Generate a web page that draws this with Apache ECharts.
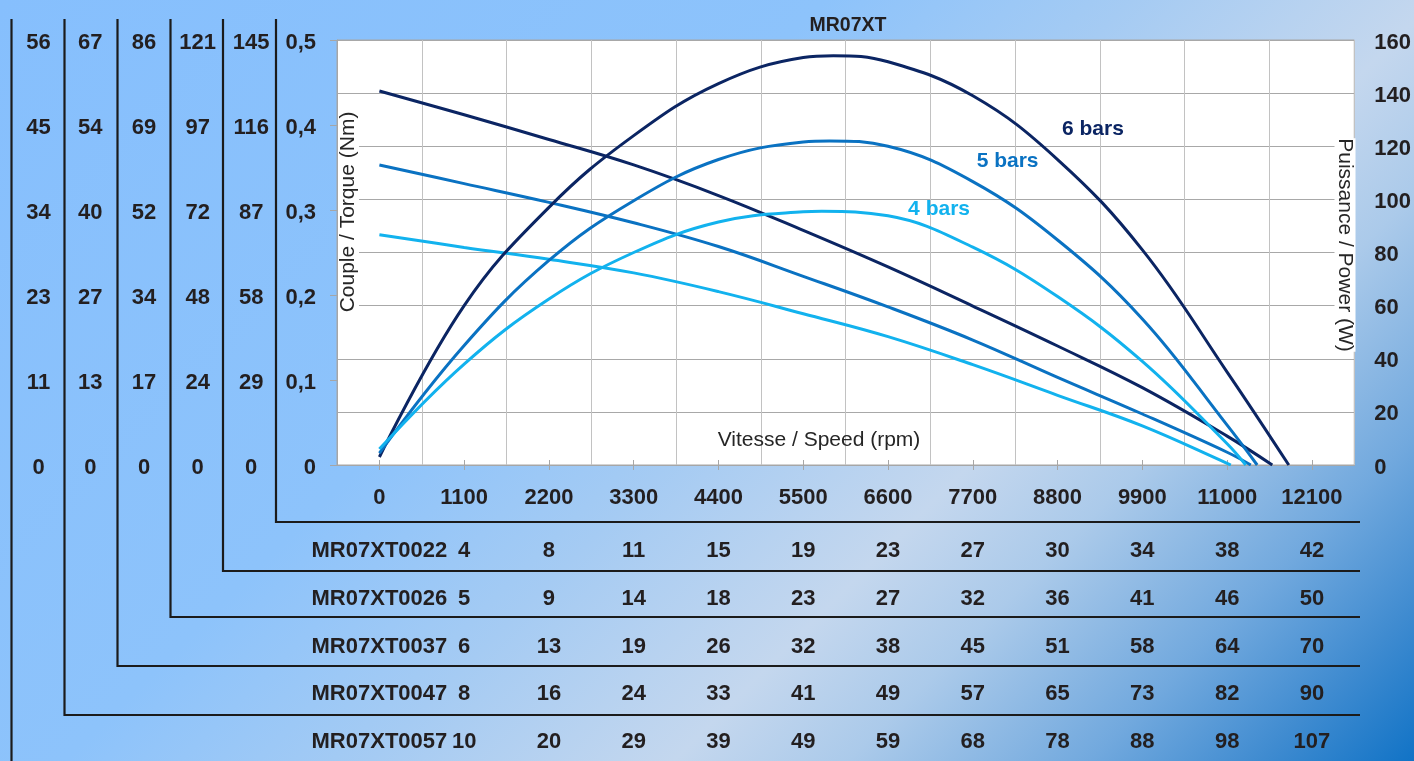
<!DOCTYPE html>
<html>
<head>
<meta charset="utf-8">
<script src="https://cdn.jsdelivr.net/npm/echarts@6/dist/echarts.min.js"></script>
<style>
html,body{margin:0;padding:0;}
#chart{width:1414px;height:761px;}
</style>
</head>
<body>
<div id="chart"></div>
<script>
// ---- data ----
const title = 'MR07XT';
const speedLabels = ['0','1100','2200','3300','4400','5500','6600','7700','8800','9900','11000','12100'];
const pressureLabels = ['6 bars','5 bars','4 bars'];

// torque curves [speed rpm, torque Nm]
const torque6 = [[0,0.44],[1100,0.412],[2200,0.383],[3300,0.353],[4400,0.317],[5500,0.276],[6600,0.233],[7700,0.187],[8800,0.140],[9900,0.091],[11000,0.034],[11586,0]];
const torque5 = [[0,0.353],[1100,0.331],[2200,0.309],[3300,0.285],[4400,0.257],[5500,0.222],[6600,0.186],[7700,0.147],[8800,0.103],[9900,0.060],[11000,0.015],[11307,0]];
const torque4 = [[0,0.271],[1100,0.256],[2200,0.242],[3300,0.226],[4400,0.204],[5500,0.178],[6600,0.151],[7700,0.118],[8800,0.082],[9900,0.046],[11000,0.002],[11048,0]];
// power curves [speed rpm, power W]
const power6 = [[0,3],[1100,60],[2200,97],[3300,124],[4400,143.6],[5500,153.4],[5890,154.1],[6600,151.8],[7700,139],[8800,115],[9900,81],[11000,35],[11800,0]];
const power5 = [[0,4.5],[1100,45],[2200,77],[3300,99.5],[4400,115],[5500,121.6],[5840,122],[6600,120],[7700,106.7],[8800,84.7],[9900,55],[11000,15],[11390,0]];
const power4 = [[0,6],[1100,38],[2200,62.5],[3300,80],[4400,91.5],[5500,95.3],[5740,95.5],[6600,93.8],[7700,82],[8800,63.4],[9900,39],[11000,8],[11242,0]];

// left-hand scale columns (bottom to top)
const colA = ['0','11','23','34','45','56'];
const colB = ['0','13','27','40','54','67'];
const colC = ['0','17','34','52','69','86'];
const colD = ['0','24','48','72','97','121'];
const colE = ['0','29','58','87','116','145'];

// table rows
const models = ['MR07XT0022','MR07XT0026','MR07XT0037','MR07XT0047','MR07XT0057'];
const row0022 = ['4','8','11','15','19','23','27','30','34','38','42'];
const row0026 = ['5','9','14','18','23','27','32','36','41','46','50'];
const row0037 = ['6','13','19','26','32','38','45','51','58','64','70'];
const row0047 = ['8','16','24','33','41','49','57','65','73','82','90'];
const row0057 = ['10','20','29','39','49','59','68','78','88','98','107'];

// ---- style ----
const FONT = "'Liberation Sans', Arial, Helvetica, sans-serif";
const TXT = '#231f20';
const C6 = '#0b2563', C5 = '#0a72c2', C4 = '#12b2ee';
const boldLabel = {fontFamily: FONT, fontSize: 22, fontWeight: 'bold', color: TXT};
const yLabelShift = {verticalAlign: 'top', lineHeight: 5};

const chart = echarts.init(document.getElementById('chart'));

const rows = [row0022, row0026, row0037, row0047, row0057];
const rowOffsets = [75, 123, 171, 218, 266];
const cols = [colA, colB, colC, colD, colE];
const colOffsets = [298.5, 246.7, 193, 139.3, 85.8];

function curve(data, yIdx, color, width) {
  return {
    type: 'line', xAxisIndex: 0, yAxisIndex: yIdx, data: data,
    smooth: 0.4, symbol: 'none', showSymbol: false,
    lineStyle: {color: color, width: width}, itemStyle: {color: color}, z: 3,
    silent: true
  };
}
function tag(text, coord, color) {
  return {
    symbol: 'rect', symbolSize: 1, itemStyle: {color: 'rgba(0,0,0,0)'},
    data: [{coord: coord}],
    label: {show: true, position: 'inside', formatter: text, fontFamily: FONT, fontSize: 21, fontWeight: 'bold', color: color}
  };
}

const xAxes = [
  {type: 'value', gridIndex: 0, min: -550, max: 12650, interval: 1100,
   axisLabel: {show: false}, axisTick: {show: false}, axisLine: {show: false, onZero: false},
   splitLine: {show: true, lineStyle: {color: '#c2c2c2', width: 1}}},
  {type: 'category', gridIndex: 0, data: speedLabels, boundaryGap: true, position: 'bottom',
   axisLine: {show: true, onZero: false, lineStyle: {color: '#a6a6a6', width: 1}},
   axisTick: {show: true, alignWithLabel: true, length: 5, lineStyle: {color: '#a6a6a6'}},
   axisLabel: Object.assign({interval: 0, margin: 22}, boldLabel),
   splitLine: {show: false}},
  {type: 'category', gridIndex: 0, data: speedLabels, boundaryGap: true, position: 'bottom',
   axisLine: {show: false, onZero: false},
   axisTick: {show: true, inside: true, alignWithLabel: true, length: 5, lineStyle: {color: '#a6a6a6'}},
   axisLabel: {show: false}, splitLine: {show: false}}
];
rows.forEach((r, i) => {
  xAxes.push({type: 'category', gridIndex: 0, data: [models[i]].concat(r), boundaryGap: true,
    position: 'bottom', offset: rowOffsets[i],
    axisLine: {show: false, onZero: false}, axisTick: {show: false}, splitLine: {show: false},
    axisLabel: Object.assign({interval: 0, margin: 0}, boldLabel)});
});

const yAxes = [
  {type: 'value', min: 0, max: 0.5, interval: 0.1, position: 'left',
   axisLine: {show: true, onZero: false, lineStyle: {color: '#a6a6a6'}},
   axisTick: {show: true, length: 7, lineStyle: {color: '#a6a6a6'}},
   splitLine: {show: false},
   axisLabel: Object.assign({margin: 21, formatter: v => v === 0 ? '0' : String(+v.toFixed(1)).replace('.', ',')}, boldLabel, yLabelShift)},
  {type: 'value', min: 0, max: 160, interval: 20, position: 'right',
   axisLine: {show: false, onZero: false}, axisTick: {show: false},
   splitLine: {show: true, lineStyle: {color: '#a8a8a8', width: 1}},
   axisLabel: Object.assign({margin: 20}, boldLabel, yLabelShift)}
];
cols.forEach((c, i) => {
  yAxes.push({type: 'value', min: 0, max: 0.5, interval: 0.1, position: 'left', offset: colOffsets[i],
    axisLine: {show: false, onZero: false}, axisTick: {show: false}, splitLine: {show: false},
    axisLabel: Object.assign({margin: 0, align: 'center', formatter: v => c[Math.round(v * 10)]}, boldLabel, yLabelShift)});
});

const bracketX = [276, 223, 170.5, 117.5, 64.5, 11.5];
const bracketY = [522, 571, 617, 666, 715, 761];
const graphics = bracketX.map((x, i) => ({
  type: 'polyline', z: 10, silent: true,
  shape: {points: i < 5 ? [[x, 19], [x, bracketY[i]], [1360, bracketY[i]]] : [[x, 19], [x, 761]]},
  style: {stroke: '#1b1b1b', lineWidth: 2.2, fill: null}
}));
graphics.push(
  {type: 'text', x: 348.5, y: 212, rotation: Math.PI / 2, z: 5, silent: true,
   style: {text: 'Couple / Torque (Nm)', fontFamily: FONT, fontSize: 21, fill: '#262626', align: 'center', verticalAlign: 'middle', backgroundColor: '#fff'}},
  {type: 'text', x: 1345, y: 245, rotation: -Math.PI / 2, z: 5, silent: true,
   style: {text: 'Puissance / Power (W)', fontFamily: FONT, fontSize: 21, fill: '#262626', align: 'center', verticalAlign: 'middle', backgroundColor: '#fff'}},
  {type: 'text', x: 819, y: 440, z: 5, silent: true,
   style: {text: 'Vitesse / Speed (rpm)', fontFamily: FONT, fontSize: 21, fill: '#262626', align: 'center', verticalAlign: 'middle'}}
);

const p6 = curve(power6, 1, C6, 3); p6.markPoint = tag(pressureLabels[0], [9258, 126.5], C6);
const p5 = curve(power5, 1, C5, 3); p5.markPoint = tag(pressureLabels[1], [8151, 114.2], C5);
const p4 = curve(power4, 1, C4, 3); p4.markPoint = tag(pressureLabels[2], [7262, 96.2], C4);

const option = {
  animation: false,
  backgroundColor: {
    type: 'linear', x: 0, y: 0, x2: 1087.5, y2: 1087.5, global: true,
    colorStops: [
      {offset: 0, color: '#86bffd'},
      {offset: 0.38, color: '#8dc3fb'},
      {offset: 0.52, color: '#a5cbf3'},
      {offset: 0.66, color: '#c4d7ee'},
      {offset: 0.74, color: '#abcaea'},
      {offset: 0.85, color: '#72a9de'},
      {offset: 0.93, color: '#3f8bd0'},
      {offset: 1, color: '#1173c6'}
    ]
  },
  title: {text: title, left: 843, top: 11, textAlign: 'center',
    textStyle: {fontFamily: FONT, fontSize: 19.5, fontWeight: 'bold', color: TXT}},
  grid: {left: 337, top: 40, right: 59, bottom: 296, show: true, backgroundColor: '#ffffff', borderColor: '#a6a6a6', borderWidth: 1},
  xAxis: xAxes,
  yAxis: yAxes,
  graphic: graphics,
  series: [
    curve(torque6, 0, C6, 3), curve(torque5, 0, C5, 3), curve(torque4, 0, C4, 3),
    p6, p5, p4
  ]
};
chart.setOption(option);
</script>
</body>
</html>
